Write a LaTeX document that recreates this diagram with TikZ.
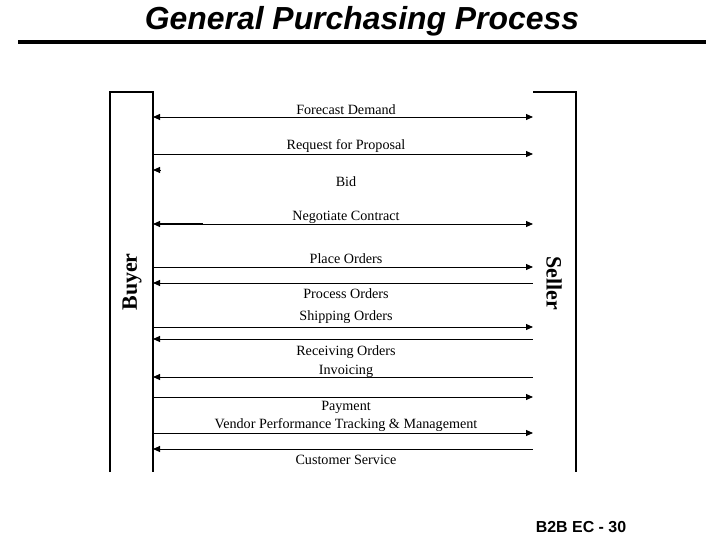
\documentclass[tikz,border=0pt]{standalone}
\usepackage{fontspec}
\setmainfont{Liberation Serif}
\setsansfont{Liberation Sans}
\usetikzlibrary{arrows.meta}

\begin{document}
\begin{tikzpicture}[x=1bp,y=-1bp,
  >={Triangle[length=7bp,width=6bp]},
  msg/.style={line width=0.9bp},
  lane/.style={line width=1.1bp},
  lbl/.style={inner sep=0pt, font=\fontsize{14.2}{16}\selectfont},
  party/.style={inner sep=0pt, font=\bfseries\fontsize{22}{24}\selectfont}]
\useasboundingbox (0,0) rectangle (720,540);

% Title and rule
\node (title) at (362,21) {\sffamily\bfseries\itshape\fontsize{32}{36}\selectfont General Purchasing Process};
\coordinate (ruleL) at (18,42);
\coordinate (ruleR) at (706,42);
\draw[line width=4bp] (ruleL) -- (ruleR);

% Buyer and seller lanes
\coordinate (buyerBL) at (110,472);
\coordinate (buyerTL) at (110,92);
\coordinate (buyerTR) at (153,92);
\coordinate (buyerBR) at (153,472);
\coordinate (sellerTL) at (533,92);
\coordinate (sellerTR) at (576,92);
\coordinate (sellerBR) at (576,472);
\draw[lane] (buyerBL) -- (buyerTL) -- (buyerTR) -- (buyerBR);
\draw[lane] (sellerTL) -- (sellerTR) -- (sellerBR);
\node[party, rotate=90] (buyer) at (132,282) {Buyer};
\node[party, rotate=-90] (seller) at (554,283) {Seller};

% Message ends on both lanes
\foreach \n/\y in {1/117,2/154,3/170,4/224,5/267,6/283,7/327,8/339,9/377,10/397,11/433,12/449} {
  \coordinate (b\n) at (153,\y);
  \coordinate (s\n) at (533,\y);
}

% Messages
\draw[msg,<->] (b1) -- (s1);
\draw[msg,->] (b2) -- (s2);
\draw[msg,<-] (b3) -- ++(8,0);
\draw[msg,<->] (b4) -- (s4);
\coordinate (n4) at (203,224);
\draw[line width=2.6bp] ([xshift=6bp]b4) -- (n4);
\draw[msg,->] (b5) -- (s5);
\draw[msg,<-] (b6) -- (s6);
\draw[msg,->] (b7) -- (s7);
\draw[msg,<-] (b8) -- (s8);
\draw[msg,<-] (b9) -- (s9);
\draw[msg,->] (b10) -- (s10);
\draw[msg,->] (b11) -- (s11);
\draw[msg,<-] (b12) -- (s12);

% Labels
\node[lbl] (forecast) at (346,110) {Forecast Demand};
\node[lbl] (request) at (346,146) {Request for Proposal};
\node[lbl] (bid) at (346,182) {Bid};
\node[lbl] (negotiate) at (346,217) {Negotiate Contract};
\node[lbl] (place) at (346,259) {Place Orders};
\node[lbl] (process) at (346,294) {Process Orders};
\node[lbl] (shipping) at (346,317) {Shipping Orders};
\node[lbl] (receiving) at (346,352) {Receiving Orders};
\node[lbl] (invoicing) at (346,371) {Invoicing};
\node[lbl] (payment) at (346,407) {Payment};
\node[lbl] (vendor) at (346,425) {Vendor Performance Tracking \& Management};
\node[lbl] (service) at (346,460) {Customer Service};

% Page number
\node (page) at (581,527) {\sffamily\bfseries\fontsize{16}{18}\selectfont B2B EC - 30};
\end{tikzpicture}
\end{document}
